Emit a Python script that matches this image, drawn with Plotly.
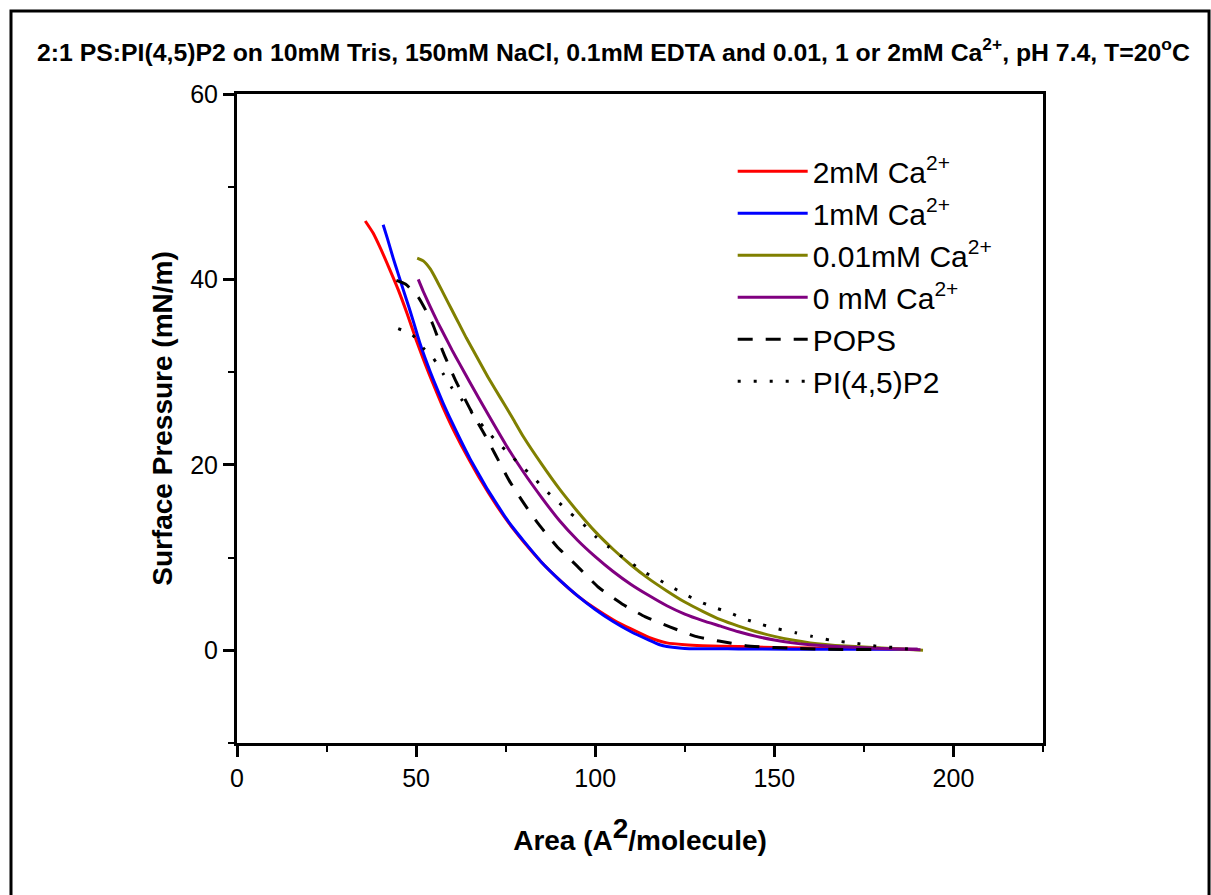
import plotly.graph_objects as go

# ---- data (Area in A^2/molecule, Surface pressure in mN/m) ----
ca2_x = [35.8, 38, 40, 42.5, 45, 47.5, 50, 52.5, 55, 57.5, 60, 62.5, 65, 67.5, 70, 72.5, 75, 77.5, 80, 85, 90, 95, 100, 105, 110, 115, 120, 125, 130, 140, 150, 170, 190]
ca2_y = [46.3, 45.0, 43.4, 41.2, 38.9, 36.3, 33.5, 30.9, 28.5, 26.2, 24.1, 22.2, 20.4, 18.7, 17.1, 15.6, 14.2, 12.9, 11.7, 9.5, 7.6, 5.9, 4.5, 3.3, 2.3, 1.4, 0.8, 0.6, 0.5, 0.4, 0.3, 0.2, 0.1]

ca1_x = [40.8, 42, 43.6, 45, 46.4, 48, 49.2, 51, 53, 55, 57.5, 60, 62.5, 65, 67.5, 70, 72.5, 75, 77.5, 80, 85, 90, 95, 100, 105, 110, 115, 118, 120, 125, 140, 170, 190]
ca1_y = [45.9, 44.4, 42.3, 40.6, 38.9, 37.0, 35.5, 33.2, 31.0, 29.0, 26.7, 24.6, 22.6, 20.7, 19.0, 17.3, 15.8, 14.3, 13.0, 11.8, 9.5, 7.6, 5.9, 4.4, 3.1, 2.0, 1.1, 0.6, 0.4, 0.2, 0.15, 0.1, 0.1]

ca001_x = [50.3, 52, 54, 56, 58, 60, 62, 64, 66, 68, 70, 72, 75, 77, 80, 85, 90, 95, 100, 105, 110, 115, 120, 125, 130, 135, 140, 145, 150, 155, 160, 170, 180, 191.5]
ca001_y = [42.3, 42.0, 41.1, 39.7, 38.2, 36.7, 35.2, 33.7, 32.3, 30.9, 29.5, 28.2, 26.3, 25.0, 23.0, 20.1, 17.4, 15.0, 12.8, 10.9, 9.2, 7.7, 6.4, 5.2, 4.2, 3.3, 2.6, 2.0, 1.5, 1.1, 0.8, 0.45, 0.25, 0.0]

ca0_x = [50.6, 52, 54, 56, 58, 60, 62, 65, 70, 75, 80, 85, 90, 95, 100, 105, 110, 115, 120, 125, 130, 135, 140, 145, 150, 155, 160, 170, 180, 190.8]
ca0_y = [40.0, 38.7, 37.0, 35.4, 33.9, 32.4, 31.0, 28.9, 25.5, 22.2, 19.2, 16.5, 14.0, 11.9, 10.1, 8.5, 7.1, 5.9, 4.8, 3.9, 3.2, 2.6, 2.0, 1.5, 1.1, 0.8, 0.6, 0.35, 0.2, 0.05]

pops_x = [44.5, 47, 50.6, 54.5, 57.6, 60.9, 65.1, 68.8, 72, 76, 80, 84.2, 89.3, 94.9, 100.9, 107.5, 114, 121, 128, 134.5, 142, 150, 157, 165, 180]
pops_y = [39.9, 39.5, 38.1, 35.3, 32.1, 29.2, 26.0, 23.5, 21.2, 18.3, 15.9, 13.6, 11.2, 9.1, 6.8, 5.0, 3.6, 2.5, 1.5, 1.0, 0.5, 0.3, 0.2, 0.1, 0.1]

pip2_x = [45, 49, 52, 54.8, 57.6, 60, 62.8, 65.6, 69, 72.5, 76, 79, 82.4, 86, 89.4, 93, 96.7, 100, 103.6, 106.7, 109.8, 113.4, 117.3, 121, 124.7, 128.9, 132.6, 137.2, 141.6, 146.3, 151.1, 155.9, 160.6, 165.6, 170.3, 174.9, 179.4, 183.8, 188]
pip2_y = [34.7, 34.0, 32.6, 31.5, 29.8, 28.3, 27.0, 25.6, 24.0, 22.5, 21.2, 20.0, 18.8, 17.3, 16.1, 14.8, 13.6, 12.3, 11.2, 10.3, 9.5, 8.5, 7.7, 6.9, 6.1, 5.3, 4.7, 4.1, 3.4, 2.8, 2.3, 1.9, 1.5, 1.1, 0.86, 0.65, 0.4, 0.3, 0.1]

series = [
    ("2mM Ca<sup>2+</sup>", ca2_x, ca2_y, "#FF0000", "solid"),
    ("1mM Ca<sup>2+</sup>", ca1_x, ca1_y, "#0000FF", "solid"),
    ("0.01mM Ca<sup>2+</sup>", ca001_x, ca001_y, "#808000", "solid"),
    ("0 mM Ca<sup>2+</sup>", ca0_x, ca0_y, "#800080", "solid"),
    ("POPS", pops_x, pops_y, "#000000", "15px,13px"),
    ("PI(4,5)P2", pip2_x, pip2_y, "#000000", "3px,13px"),
]

FONT = "Liberation Sans, Arial, sans-serif"

fig = go.Figure()
for i, (name, xs, ys, col, dash) in enumerate(series):
    fig.add_trace(go.Scatter(
        x=xs, y=ys, mode="lines", name=name,
        line=dict(color=col, width=3, dash=dash, shape="spline", smoothing=0.5),
    ))

axis_common = dict(
    showgrid=False, zeroline=False, showline=True, mirror=True,
    linecolor="black", linewidth=3,
    ticks="outside", ticklen=11, tickwidth=3, tickcolor="black",
    ticklabelstandoff=0,
    tickfont=dict(family=FONT, size=25, color="black"),
)

fig.update_xaxes(
    range=[0, 225], tick0=0, dtick=50,
    minor=dict(ticks="outside", ticklen=6, tickwidth=2, tickcolor="black", dtick=25, tick0=0),
    title=dict(text="Area (A<sup><span style=\"font-size:28px\">2</span></sup>/molecule)",
               font=dict(family=FONT, size=28, color="black", weight="bold"), standoff=40),
    **axis_common,
)
fig.update_yaxes(
    range=[-10, 60], tick0=0, dtick=20,
    minor=dict(ticks="outside", ticklen=6, tickwidth=2, tickcolor="black", dtick=10, tick0=0),
    title=dict(text="Surface Pressure (mN/m)",
               font=dict(family=FONT, size=28, color="black", weight="bold"), standoff=10),
    **axis_common,
)

fig.update_layout(
    width=1211, height=895,
    margin=dict(l=237, r=168, t=94, b=152),
    paper_bgcolor="white", plot_bgcolor="white",
    title=dict(
        text="2:1 PS:PI(4,5)P2 on 10mM Tris, 150mM NaCl, 0.1mM EDTA and 0.01, 1 or 2mM Ca<sup>2+</sup>, pH 7.4, T=20<sup>o</sup>C",
        font=dict(family=FONT, size=24.8, color="black", weight="bold"),
        x=37 / 1211, xanchor="left", xref="container",
        y=1 - 52 / 895, yanchor="middle", yref="container",
    ),
    legend=dict(
        x=0.615, y=0.921, xanchor="left", yanchor="top",
        font=dict(family=FONT, size=30, color="black"),
        bgcolor="rgba(0,0,0,0)", itemwidth=70,
    ),
    shapes=[dict(
        type="rect", xref="paper", yref="paper",
        x0=-0.2804, x1=1.206, y0=-0.35, y1=1.128,
        line=dict(color="black", width=3), fillcolor="rgba(0,0,0,0)", layer="below",
    )],
)

fig.write_html("out.html")
